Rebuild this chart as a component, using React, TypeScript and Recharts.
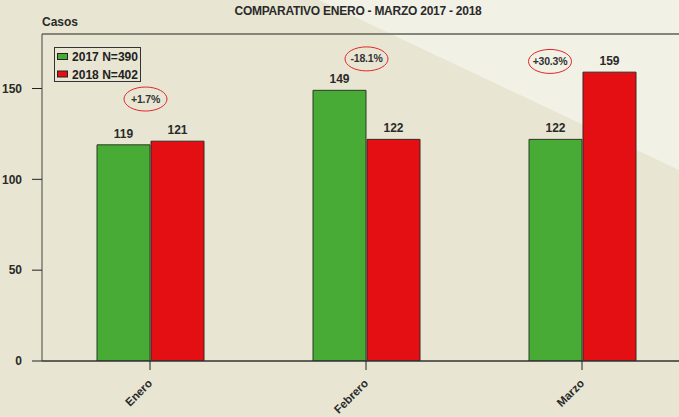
import React from 'react';
import { BarChart, Bar, XAxis, YAxis, Legend, LabelList, ReferenceLine, ReferenceDot } from 'recharts';

const months = ['Enero', 'Febrero', 'Marzo'];
const values2017 = [119, 149, 122];
const values2018 = [121, 122, 159];
const series = ['2017 N=390', '2018 N=402'];
const yTicks = [0, 50, 100, 150];
const changeLabels = ['+1.7%', '-18.1%', '+30.3%'];
const changeHeights = [144.2, 166.3, 164.9];
const changeShift = [-4.5, 0.5, -32];

const colors = ['#47AB35', '#E30F13'];
const FONT = '"Liberation Sans", Arial, sans-serif';

const data = months.map((m, i) => ({ month: m, a: values2017[i], b: values2018[i] }));

const XTick = (props: any) => {
  const { x, y, payload } = props;
  return (
    <g transform={`translate(${x},${y})`}>
      <text
        x={0}
        y={0}
        transform="translate(3,12) rotate(-45)"
        textAnchor="end"
        fontFamily={FONT}
        fontWeight="bold"
        fontSize={11.5}
        fill="#2a2a2a"
      >
        {payload.value}
      </text>
    </g>
  );
};

const LegendBox = () => (
  <svg width={90} height={36} style={{ display: 'block', overflow: 'visible' }}>
    <rect x={0.5} y={0.5} width={86} height={34} fill="none" stroke="#333" strokeWidth={1} />
    {series.map((s, i) => (
      <g key={s}>
        <rect x={3.5} y={6.5 + i * 17.5} width={10} height={6} fill={colors[i]} stroke="#222" strokeWidth={1} />
        <text
          x={18}
          y={14 + i * 17.5}
          fontFamily={FONT}
          fontWeight="bold"
          fontSize={12}
          fill="#222"
          textLength={66}
          lengthAdjust="spacingAndGlyphs"
        >
          {s}
        </text>
      </g>
    ))}
  </svg>
);

const makeEllipse = (i: number) => (props: any) => {
  const cx = props.cx + changeShift[i];
  const cy = props.cy;
  return (
    <g>
      <ellipse cx={cx} cy={cy} rx={21.5} ry={12} fill="none" stroke="#E0252A" strokeWidth={1} />
      <text
        x={cx}
        y={cy + 3.5}
        textAnchor="middle"
        fontFamily={FONT}
        fontWeight="bold"
        fontSize={10.5}
        letterSpacing={-0.2}
        fill="#333"
      >
        {changeLabels[i]}
      </text>
    </g>
  );
};

export default function App() {
  return (
    <div style={{ position: 'absolute', left: 0, top: 0, width: 679, height: 417, overflow: 'hidden', background: '#E8E6D3' }}>
      <div
        style={{
          position: 'absolute',
          left: 0,
          top: 0,
          width: 679,
          height: 417,
          background: '#F2F1E6',
          clipPath: 'polygon(319px 0px, 679px 0px, 679px 170px)',
        }}
      />
      <svg style={{ position: 'absolute', left: 0, top: 0 }} width={679} height={34}>
        <text x={358} y={15} textAnchor="middle" fontFamily={FONT} fontWeight="bold" fontSize={12} letterSpacing={-0.25} fill="#2a2a2a">
          COMPARATIVO ENERO - MARZO 2017 - 2018
        </text>
        <text x={42} y={26} fontFamily={FONT} fontWeight="bold" fontSize={12} fill="#2a2a2a">
          Casos
        </text>
      </svg>
      <div style={{ position: 'absolute', left: 0, top: 0 }}>
        <BarChart
          width={700}
          height={417}
          data={data}
          margin={{ top: 34, right: 10, bottom: 0, left: 0 }}
          barSize={53}
          barGap={1}
        >
          <XAxis
            dataKey="month"
            height={56}
            tickLine={{ stroke: '#222' }}
            axisLine={{ stroke: '#333', strokeWidth: 1.5 }}
            tickSize={9}
            tickMargin={2}
            tick={<XTick />}
            interval={0}
          />
          <YAxis
            width={42}
            domain={[0, 180]}
            ticks={yTicks}
            allowDataOverflow
            tickSize={10}
            tickMargin={10}
            tickLine={{ stroke: '#222' }}
            axisLine={{ stroke: '#444' }}
            tick={{ fontFamily: FONT, fontWeight: 'bold', fontSize: 12, fill: '#2a2a2a' }}
          />
          <ReferenceLine y={180} stroke="#858578" strokeWidth={2} />
          <Legend
            layout="vertical"
            align="center"
            verticalAlign="middle"
            content={<LegendBox />}
            wrapperStyle={{ left: 54, top: 47, width: 90, height: 36 }}
          />
          <Bar dataKey="a" name={series[0]} fill={colors[0]} stroke="#2c3a26" strokeWidth={1} isAnimationActive={false}>
            <LabelList dataKey="a" position="top" offset={7} fontFamily={FONT} fontWeight="bold" fontSize={12} fill="#2a2a2a" />
          </Bar>
          <Bar dataKey="b" name={series[1]} fill={colors[1]} stroke="#3a2626" strokeWidth={1} isAnimationActive={false}>
            <LabelList dataKey="b" position="top" offset={7} fontFamily={FONT} fontWeight="bold" fontSize={12} fill="#2a2a2a" />
          </Bar>
          {months.map((m, i) => (
            <ReferenceDot key={m} x={m} y={changeHeights[i]} r={1} shape={makeEllipse(i)} />
          ))}
        </BarChart>
      </div>
    </div>
  );
}
